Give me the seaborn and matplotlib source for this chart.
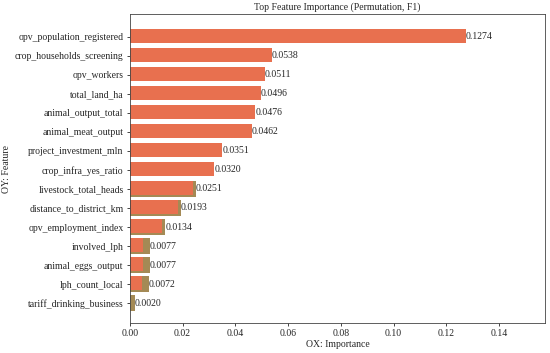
"""
Permutation feature importance bar chart
"""
import matplotlib
matplotlib.use('Agg')
import matplotlib.pyplot as plt
import seaborn as sns
import pandas as pd

features = [
    'opv_population_registered', 'crop_households_screening', 'opv_workers',
    'total_land_ha', 'animal_output_total', 'animal_meat_output',
    'project_investment_mln', 'crop_infra_yes_ratio', 'livestock_total_heads',
    'distance_to_district_km', 'opv_employment_index', 'involved_lph',
    'animal_eggs_output', 'lph_count_local', 'tariff_drinking_business',
]
importance = [0.1274, 0.0538, 0.0511, 0.0496, 0.0476, 0.0462, 0.0351, 0.0320,
              0.0251, 0.0193, 0.0134, 0.0077, 0.0077, 0.0072, 0.0020]
# olive under-layer visible on the lower bars, and the orange length drawn over it
shadow = [0, 0, 0, 0, 0, 0, 0, 0,
          0.0251, 0.0193, 0.0134, 0.0077, 0.0077, 0.0072, 0.0020]
front = [0.1274, 0.0538, 0.0511, 0.0496, 0.0476, 0.0462, 0.0351, 0.0320,
         0.0240, 0.0182, 0.0121, 0.0050, 0.0050, 0.0046, 0.0000]

df = pd.DataFrame({'feature': features, 'importance': importance,
                   'shadow': shadow, 'front': front})

sns.set_style('white')
plt.rcParams['font.family'] = ['Liberation Serif', 'DejaVu Serif']

fig, ax = plt.subplots(figsize=(5.5, 3.53), dpi=100)

sns.barplot(data=df, y='feature', x='shadow', color='#a48a55', saturation=1,
            width=0.8, linewidth=0, ax=ax)
sns.barplot(data=df, y='feature', x='front', color='#e8704f', saturation=1,
            width=0.74, linewidth=0, ax=ax)

# shift the front bars up a touch so the olive shows along the bottom edge
n = len(features)
for p in ax.patches[n:]:
    p.set_y(p.get_y() - 0.03)

fs = 7
for i, v in enumerate(importance):
    ax.text(v, i, f'{v:.4f}', va='center', ha='left', fontsize=fs)

ax.set_xlim(0, 0.1574)
ax.set_ylim(n - 1 + 1.05, -1.2)
ax.set_xticks([0.00, 0.02, 0.04, 0.06, 0.08, 0.10, 0.12, 0.14])
ax.set_xticklabels([f'{t:.2f}' for t in ax.get_xticks()])
ax.tick_params(axis='both', labelsize=fs, length=2.5, width=0.6, pad=2,
               left=True, bottom=True)
ax.set_xlabel('OX: Importance', fontsize=fs, labelpad=1)
ax.set_ylabel('OY: Feature', fontsize=fs, labelpad=3)
ax.set_title('Top Feature Importance (Permutation, F1)', fontsize=fs, pad=3)
for s in ax.spines.values():
    s.set_linewidth(0.6)
    s.set_color('#444444')

plt.subplots_adjust(left=0.236, right=0.991, top=0.96, bottom=0.085)
plt.savefig('out.png', dpi=100)
plt.close()
